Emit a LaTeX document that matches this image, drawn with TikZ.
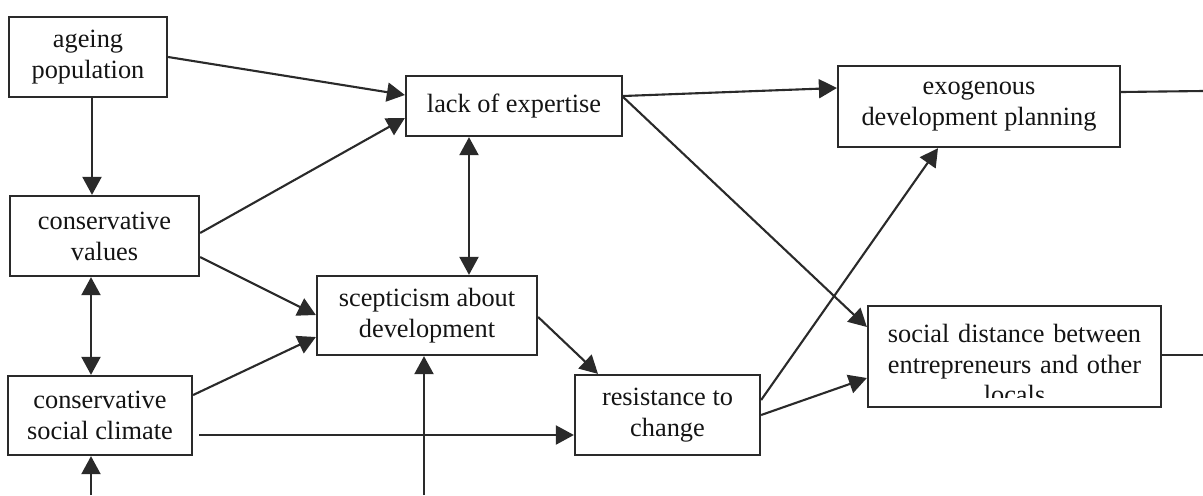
\documentclass[tikz,border=0pt]{standalone}
\usepackage{fontspec}
\setmainfont{Liberation Serif}
\usetikzlibrary{arrows.meta}
\definecolor{ink}{HTML}{2A2A2A}

\begin{document}
\begin{tikzpicture}[x=0.02cm,y=-0.02cm]
\tikzstyle{box} = [draw=ink, line width=1.3pt, inner sep=0pt, align=center, text=black!92, font=\fontsize{15}{17.6}\selectfont]
\tikzstyle{line} = [draw=ink, line width=1.2pt]
\tikzstyle{link} = [line, -{Triangle[length=0.36cm,width=0.38cm]}]
\tikzstyle{both} = [line, {Triangle[length=0.36cm,width=0.38cm]}-{Triangle[length=0.36cm,width=0.38cm]}]
\useasboundingbox (0,0) rectangle (1203,495);

% causes on the left
\node[box, minimum width=3.16cm, minimum height=1.6cm] (ageing) at (88,57) {ageing\\population};
\node[box, minimum width=3.78cm, minimum height=1.6cm] (values) at (104.5,236) {conservative\\values};
\node[box, minimum width=3.68cm, minimum height=1.58cm] (climate) at (100,415.5) {conservative\\social climate};

% middle
\node[box, minimum width=4.32cm, minimum height=1.2cm] (lack) at (514,106) {lack of expertise};
\node[box, minimum width=4.4cm, minimum height=1.58cm] (scep) at (427,315.5) {scepticism about\\development};
\node[box, minimum width=3.7cm, minimum height=1.6cm] (resist) at (667.5,415) {resistance to\\change};

% effects on the right
\node[box, minimum width=5.64cm, minimum height=1.62cm] (exo) at (979,106.5) {exogenous\\development planning};
\node[box, minimum width=5.86cm, minimum height=2.02cm, path picture={
    \clip (path picture bounding box.north west) rectangle ([yshift=0.2cm]path picture bounding box.south east);
    \node[font=\fontsize{15}{17.6}\selectfont, text=black!92, text width=5.8cm, align=center] (disttext)
        at ([yshift=-0.15cm]path picture bounding box.center) {social distance between\\entrepreneurs and other\\locals};
    }] (dist) at (1014.5,356.5) {};

% loose ends
\coordinate (clim in) at (91,495);
\coordinate (scep in) at (424,495);
\coordinate (exo out) at (1203,91);
\coordinate (dist out) at (1203,355);

\draw[link] (ageing.east |- 0,57) -- (lack.west |- 0,95);
\draw[link] (ageing.south -| 92,0) -- (values.north -| 92,0);
\draw[link] (values.east |- 0,233) -- (lack.west |- 0,118);
\draw[link] (values.east |- 0,257) -- (scep.west |- 0,315);
\draw[both] (values.south -| 91,0) -- (climate.north -| 91,0);
\draw[link] (climate.east |- 0,395) -- (scep.west |- 0,337);
\draw[link, shorten <=0.12cm] (climate.east |- 0,435) -- (resist.west |- 0,435);
\draw[both] (lack.south -| 469,0) -- (scep.north -| 469,0);
\draw[link] (scep in) -- (scep.south -| scep in);
\draw[link] (clim in) -- (climate.south -| clim in);
\draw[link] (scep.east |- 0,317) -- (resist.north -| 598,0);
\draw[link] (lack.east |- 0,96) -- (exo.west |- 0,88);
\draw[link] (lack.east |- 0,97) -- (dist.west |- 0,327);
\draw[link] (resist.east |- 0,400) -- (exo.south -| 938,0);
\draw[link] (resist.east |- 0,415) -- (dist.west |- 0,378);
\draw[line] (exo.east |- 0,92) -- (exo out);
\draw[line] (dist.east |- 0,355) -- (dist out);
\end{tikzpicture}
\end{document}
